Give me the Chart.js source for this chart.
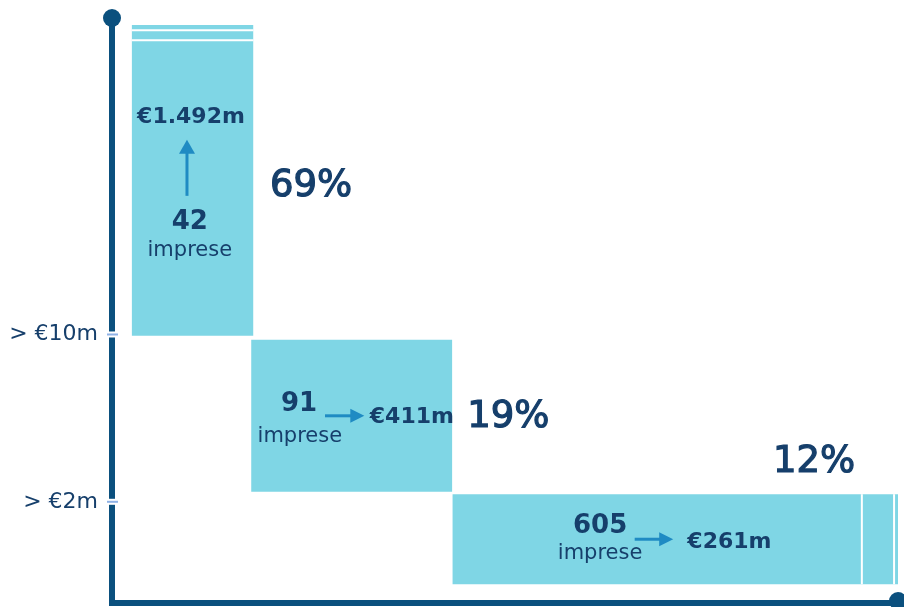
<!DOCTYPE html>
<html>
<head>
<meta charset="utf-8">
<script src="https://cdn.jsdelivr.net/npm/chart.js@4.4.1/dist/chart.umd.min.js"></script>
<style>
  html, body { margin: 0; padding: 0; background: #fff; }
  #wrap { width: 904px; height: 607px; }
</style>
</head>
<body>
<div id="wrap"><canvas id="chart"></canvas></div>
<script>
// --- data ---
const firms = ['42', '91', '605'];
const turnover = ['€1.492m', '€411m', '€261m'];
const shares = ['69%', '19%', '12%'];
// schematic extents of the three blocks (axes run 0-100)
const blockLeft = [2.5, 17.7, 43.3];
const blockRight = [18, 43.3, 100];
const blockTop = [98.8, 45, 18.6];
const blockBottom = [45.7, 19, 3.2];
// "broken bar" cuts
const cutsBar1 = [97.9, 96.2];   // y values on first block
const cutsBar3 = [95.4, 99.5];   // x values on last block
const tickValues = [45.9, 17.3];
const tickLabels = ['> €10m', '> €2m'];

const AXIS = '#0b507e';
const BAR = '#7fd6e5';
const INK = '#163f6b';
const ARROW = '#1f8bc3';
const FONT = "'DejaVu Sans', sans-serif";

// where the annotations sit, in axis units
const notes = [
  { share: [20.1, 71.3], total: [10.05, 83.1, 'center'], count: [9.9, 65.1], word: [9.9, 60.2],
    arrow: { up: true, x: 9.54, from: 69.6, to: 79.2 } },
  { share: [45.2, 31.8], total: [32.8, 31.8, 'left'], count: [23.8, 34.0], word: [23.9, 28.5],
    arrow: { up: false, y: 32.0, from: 27.1, to: 32.1 } },
  { share: [84.1, 24.1], total: [73.2, 10.3, 'left'], count: [62.1, 13.2], word: [62.1, 8.5],
    arrow: { up: false, y: 10.9, from: 66.5, to: 71.4 } }
];

const datasets = [];
blockLeft.forEach((x0, i) => {
  datasets.push({
    data: [{ x: x0, y: blockTop[i] }, { x: blockRight[i], y: blockTop[i] }],
    showLine: true,
    borderWidth: 0,
    borderColor: BAR,
    backgroundColor: BAR,
    pointRadius: 0,
    fill: { value: blockBottom[i] },
    order: 2
  });
});
cutsBar1.forEach(y => {
  datasets.push({
    data: [{ x: blockLeft[0], y: y }, { x: blockRight[0], y: y }],
    showLine: true, borderWidth: 2, borderColor: '#ffffff', pointRadius: 0, fill: false, order: 1
  });
});
cutsBar3.forEach(x => {
  datasets.push({
    data: [{ x: x, y: blockBottom[2] }, { x: x, y: blockTop[2] }],
    showLine: true, borderWidth: 2, borderColor: '#ffffff', pointRadius: 0, fill: false, order: 1
  });
});

const decor = {
  id: 'decor',
  afterDraw(chart) {
    const { ctx, chartArea: a, scales: { x, y } } = chart;
    ctx.save();
    // axis breaks at the ticks
    tickValues.forEach(v => {
      const py = y.getPixelForValue(v);
      ctx.fillStyle = '#ffffff';
      ctx.fillRect(a.left - 4, py - 3, 8, 6);
      ctx.fillStyle = '#8fb2e6';
      ctx.fillRect(a.left - 5, py - 1, 11, 2);
    });
    // end caps
    ctx.fillStyle = AXIS;
    ctx.beginPath(); ctx.arc(a.left, a.top, 9, 0, Math.PI * 2); ctx.fill();
    ctx.beginPath(); ctx.arc(a.right, a.bottom - 2, 9, 0, Math.PI * 2); ctx.fill();

    const text = (s, pos, font, align, heavy) => {
      ctx.font = font;
      ctx.textAlign = align || 'center';
      ctx.textBaseline = 'middle';
      ctx.fillStyle = INK;
      const px = x.getPixelForValue(pos[0]), py = y.getPixelForValue(pos[1]);
      ctx.fillText(s, px, py);
      if (heavy) {
        ctx.strokeStyle = INK;
        ctx.lineWidth = heavy;
        ctx.strokeText(s, px, py);
      }
    };
    notes.forEach((n, i) => {
      text(shares[i], n.share, '37px ' + FONT, 'left', 1.2);
      text(turnover[i], n.total, 'bold 22px ' + FONT, n.total[2]);
      text(firms[i], n.count, 'bold 26px ' + FONT);
      text('imprese', n.word, '21px ' + FONT);
      // arrows
      ctx.strokeStyle = ARROW;
      ctx.fillStyle = ARROW;
      ctx.lineWidth = 3;
      const ar = n.arrow;
      if (ar.up) {
        const px = x.getPixelForValue(ar.x);
        const p0 = y.getPixelForValue(ar.from), p1 = y.getPixelForValue(ar.to);
        ctx.beginPath(); ctx.moveTo(px, p0); ctx.lineTo(px, p1 + 12); ctx.stroke();
        ctx.beginPath(); ctx.moveTo(px - 8, p1 + 14); ctx.lineTo(px + 8, p1 + 14); ctx.lineTo(px, p1); ctx.closePath(); ctx.fill();
      } else {
        const py = y.getPixelForValue(ar.y);
        const p0 = x.getPixelForValue(ar.from), p1 = x.getPixelForValue(ar.to);
        ctx.beginPath(); ctx.moveTo(p0, py); ctx.lineTo(p1 - 12, py); ctx.stroke();
        ctx.beginPath(); ctx.moveTo(p1 - 14, py - 7); ctx.lineTo(p1 - 14, py + 7); ctx.lineTo(p1, py); ctx.closePath(); ctx.fill();
      }
    });
    ctx.restore();
  }
};

new Chart(document.getElementById('chart'), {
  type: 'scatter',
  data: { datasets },
  options: {
    responsive: true,
    maintainAspectRatio: false,
    animation: false,
    layout: { padding: { top: 18, right: 6, left: 0, bottom: 0 } },
    plugins: { legend: { display: false }, tooltip: { enabled: false } },
    scales: {
      x: {
        type: 'linear', min: 0, max: 100,
        grid: { display: false, drawTicks: false },
        border: { color: AXIS, width: 6 },
        ticks: { display: false },
        afterFit(s) { s.height = 4; s.paddingLeft = 0; s.paddingRight = 0; }
      },
      y: {
        type: 'linear', min: 0, max: 100,
        grid: { display: false, drawTicks: false },
        border: { color: AXIS, width: 6 },
        afterBuildTicks(s) { s.ticks = tickValues.map(v => ({ value: v })); },
        ticks: {
          padding: 14,
          color: INK,
          font: { family: FONT, size: 22 },
          callback: (v, i) => tickLabels[i]
        },
        afterFit(s) { s.width = 112; s.paddingTop = 0; s.paddingBottom = 0; }
      }
    }
  },
  plugins: [decor]
});
</script>
</body>
</html>
